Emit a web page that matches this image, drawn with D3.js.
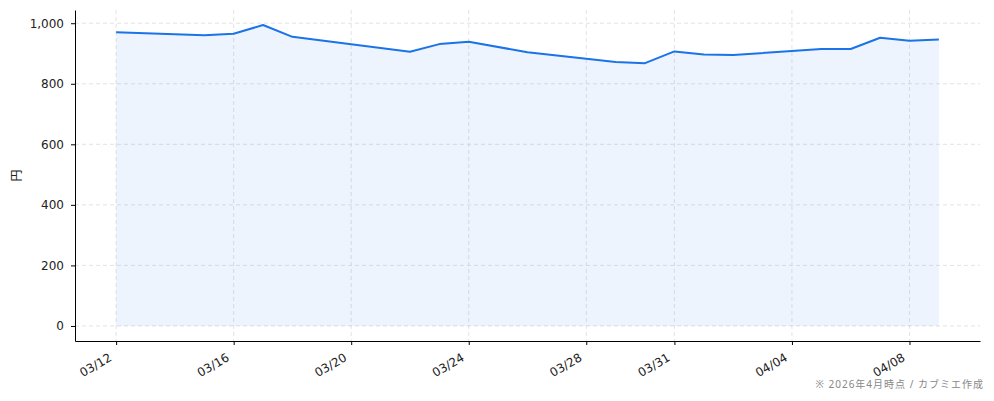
<!DOCTYPE html>
<html>
<head>
<meta charset="utf-8">
<script src="https://cdn.jsdelivr.net/npm/d3@7"></script>
<style>
  html, body { margin: 0; padding: 0; background: #fff; }
  svg { display: block; font-family: "Noto Sans", "Noto Sans CJK JP", sans-serif; }
  .grid line { stroke: #dcdcdc; stroke-dasharray: 4 3; stroke-width: 0.8; }
  .axis path, .axis line { stroke: #000; stroke-width: 1; }
  .axis text { fill: #222; font-size: 12px; font-family: "DejaVu Sans", sans-serif; }
</style>
</head>
<body>
<svg id="chart" width="994" height="401"></svg>
<script>
/* ── Data ──────────────────────────────────────────────── */
const dates = [
  '2026-03-12', '2026-03-15', '2026-03-16', '2026-03-17', '2026-03-18',
  '2026-03-22', '2026-03-23', '2026-03-24', '2026-03-26', '2026-03-29',
  '2026-03-30', '2026-03-31', '2026-04-01', '2026-04-02', '2026-04-05',
  '2026-04-06', '2026-04-07', '2026-04-08', '2026-04-09'
];
const prices = [
  970, 960, 965, 994, 955,
  906, 931, 939, 904, 872,
  868, 907, 897, 895, 915,
  915, 952, 942, 946
];
const xTickDates = ['2026-03-12', '2026-03-16', '2026-03-20', '2026-03-24',
                    '2026-03-28', '2026-03-31', '2026-04-04', '2026-04-08'];
const yTicks = [0, 200, 400, 600, 800, 1000];
const yLabel = '円';
const footnote = '※ 2026年4月時点 / カブミエ作成';

/* ── Layout ────────────────────────────────────────────── */
const W = 994, H = 401;
const margin = { top: 10, right: 14, bottom: 60, left: 75 };

const svg = d3.select('#chart');
const parse = d3.utcParse('%Y-%m-%d');
const pts = dates.map((d, i) => ({ date: parse(d), v: prices[i] }));

// matplotlib-like 5% padding on both axes
const [d0, d1] = d3.extent(pts, d => +d.date);
const padX = (d1 - d0) * 0.05;
const x = d3.scaleUtc()
  .domain([new Date(d0 - padX), new Date(d1 + padX)])
  .range([margin.left, W - margin.right]);

const vMax = d3.max(prices);
const padY = vMax * 0.05;
const y = d3.scaleLinear()
  .domain([-padY, vMax + padY])
  .range([H - margin.bottom, margin.top]);

const xTicks = xTickDates.map(parse);

/* ── Grid ──────────────────────────────────────────────── */
const grid = svg.append('g').attr('class', 'grid');
grid.selectAll('line.h').data(yTicks).enter().append('line')
  .attr('x1', margin.left).attr('x2', W - margin.right)
  .attr('y1', d => y(d)).attr('y2', d => y(d));
grid.selectAll('line.v').data(xTicks).enter().append('line')
  .attr('x1', d => x(d)).attr('x2', d => x(d))
  .attr('y1', margin.top).attr('y2', H - margin.bottom);

/* ── Area + line ───────────────────────────────────────── */
svg.append('path')
  .datum(pts)
  .attr('fill', 'rgba(26,115,232,0.08)')
  .attr('d', d3.area().x(d => x(d.date)).y0(y(0)).y1(d => y(d.v)));

svg.append('path')
  .datum(pts)
  .attr('fill', 'none')
  .attr('stroke', '#1a73e8')
  .attr('stroke-width', 2)
  .attr('stroke-linejoin', 'round')
  .attr('d', d3.line().x(d => x(d.date)).y(d => y(d.v)));

/* ── Axes ──────────────────────────────────────────────── */
const xAxis = svg.append('g')
  .attr('class', 'axis')
  .attr('transform', `translate(0,${H - margin.bottom})`)
  .call(d3.axisBottom(x).tickValues(xTicks).tickFormat(d3.utcFormat('%m/%d'))
    .tickSize(4).tickSizeOuter(0).tickPadding(6));
xAxis.selectAll('.tick text')
  .attr('text-anchor', 'end')
  .attr('x', -4).attr('y', 19).attr('dy', 0)
  .attr('transform', 'rotate(-30, -4, 19)');

svg.append('g')
  .attr('class', 'axis')
  .attr('transform', `translate(${margin.left},0)`)
  .call(d3.axisLeft(y).tickValues(yTicks).tickFormat(d3.format(','))
    .tickSize(4).tickSizeOuter(0).tickPadding(7));

/* ── Labels ────────────────────────────────────────────── */
svg.append('text')
  .attr('transform', `translate(21,${(margin.top + H - margin.bottom) / 2}) rotate(-90)`)
  .attr('text-anchor', 'middle')
  .attr('font-size', 12)
  .attr('fill', '#222')
  .text(yLabel);

svg.append('text')
  .attr('x', 984).attr('y', 388)
  .attr('text-anchor', 'end')
  .attr('font-size', 10)
  .attr('letter-spacing', 1)
  .attr('fill', '#888')
  .text(footnote);
</script>
</body>
</html>
